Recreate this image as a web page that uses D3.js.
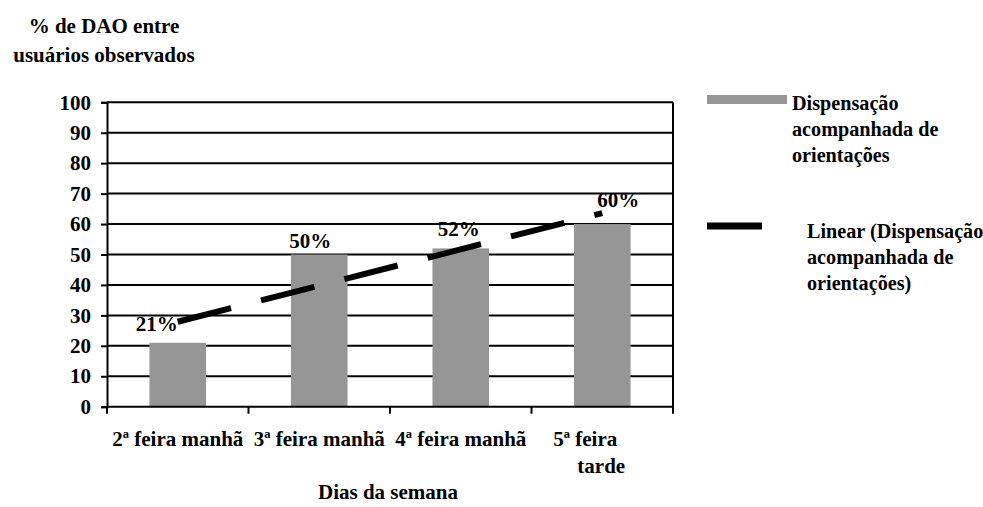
<!DOCTYPE html>
<html><head><meta charset="utf-8">
<script src="https://cdn.jsdelivr.net/npm/d3@7"></script>
<style>
body{margin:0;background:#fff;}
</style></head>
<body>
<svg id="chart" width="983" height="507"></svg>
<script>
const categories = ["2ª feira manhã", "3ª feira manhã", "4ª feira manhã", "5ª feira tarde"];
const values = [21, 50, 52, 60];
const yTicks = [0, 10, 20, 30, 40, 50, 60, 70, 80, 90, 100];
const xTitle = "Dias da semana";
const yTitle = ["% de DAO entre", "usuários observados"];
const legendBar = ["Dispensação", "acompanhada de", "orientações"];
const legendTrend = ["Linear (Dispensação", "acompanhada de", "orientações)"];
// label nudges (layout only)
const labelDx = [-21, -9, -2, 16];
const labelDy = [-12, -7, -12, -17];

(function () {
const FF = "'Liberation Serif', 'Times New Roman', serif";
const svg = d3.select("#chart");
const fs = 21, lfs = 20.2;
const pL = 107, pR = 673, pT = 102.3, pB = 406.7;

const T = (sel) => sel.attr("font-family", FF).attr("font-weight", "bold").attr("fill", "#000");

const x = d3.scaleBand().domain(categories).range([pL, pR]).padding(0);
const y = d3.scaleLinear().domain([0, 100]).range([pB, pT]);

// gridlines
svg.append("g").selectAll("line").data(yTicks.filter(d => d > 0)).join("line")
  .attr("x1", pL).attr("x2", pR).attr("y1", d => y(d)).attr("y2", d => y(d))
  .attr("stroke", "#000").attr("stroke-width", 2);
// right border
svg.append("line").attr("x1", pR).attr("x2", pR).attr("y1", pT).attr("y2", pB)
  .attr("stroke", "#000").attr("stroke-width", 2);

// bars
const bw = x.bandwidth() * 0.4;
svg.append("g").selectAll("rect").data(values).join("rect")
  .attr("x", (d, i) => x(categories[i]) + x.bandwidth() / 2 - bw / 2)
  .attr("width", bw)
  .attr("y", d => y(d)).attr("height", d => y(0) - y(d))
  .attr("fill", "#969696");

// y axis
const yAxis = svg.append("g").attr("transform", `translate(${pL},0)`)
  .call(d3.axisLeft(y).tickValues(yTicks).tickSize(6).tickPadding(10));
yAxis.select(".domain").attr("stroke-width", 2);
yAxis.selectAll(".tick line").attr("stroke-width", 2);
yAxis.selectAll("text").attr("font-size", fs).call(T);
yAxis.attr("font-family", FF);

// x axis
const xAxis = svg.append("g").attr("transform", `translate(0,${pB})`)
  .call(d3.axisBottom(x).tickSize(0).tickFormat(""));
xAxis.select(".domain").attr("stroke-width", 2).attr("d", `M${pL},0H${pR}`);
const bounds = categories.map(c => x(c)).concat([pR]);
xAxis.selectAll(".bt").data(bounds).join("line").attr("class", "bt")
  .attr("x1", d => d).attr("x2", d => d).attr("y1", 0).attr("y2", 7)
  .attr("stroke", "#000").attr("stroke-width", 2);

// category labels
categories.forEach((c, i) => {
  const cx = x(c) + x.bandwidth() / 2;
  if (i < 3) {
    svg.append("text").attr("x", cx).attr("y", 446).attr("text-anchor", "middle")
      .attr("font-size", fs).text(c).call(T);
  } else {
    const parts = ["5ª feira", "tarde"];
    svg.append("text").attr("x", cx - 17).attr("y", 446).attr("text-anchor", "middle")
      .attr("font-size", fs).text(parts[0]).call(T);
    svg.append("text").attr("x", cx - 1).attr("y", 473).attr("text-anchor", "middle")
      .attr("font-size", fs).text(parts[1]).call(T);
  }
});

// data labels
svg.append("g").selectAll("text").data(values).join("text")
  .attr("x", (d, i) => x(categories[i]) + x.bandwidth() / 2 + labelDx[i])
  .attr("y", (d, i) => y(d) + labelDy[i])
  .attr("text-anchor", "middle").attr("font-size", fs)
  .text(d => d + "%").call(T);

// linear trend (least squares)
const n = values.length;
const xs = values.map((d, i) => i + 1);
const mx = d3.mean(xs), my = d3.mean(values);
const slope = d3.sum(xs.map((xi, i) => (xi - mx) * (values[i] - my))) / d3.sum(xs.map(xi => (xi - mx) ** 2));
const icpt = my - slope * mx;
const trend = [1, n].map(k => ({cat: categories[k - 1], v: icpt + slope * k}));
svg.append("path")
  .attr("d", d3.line().x(d => x(d.cat) + x.bandwidth() / 2).y(d => y(d.v))(trend))
  .attr("stroke", "#000").attr("stroke-width", 6).attr("fill", "none")
  .attr("stroke-dasharray", "55,31");

// titles
svg.append("text").attr("x", (pL + pR) / 2 - 2).attr("y", 499).attr("text-anchor", "middle")
  .attr("font-size", fs).text(xTitle).call(T);
yTitle.forEach((t, i) => {
  svg.append("text").attr("x", 104).attr("y", 33 + i * 29).attr("text-anchor", "middle")
    .attr("font-size", fs).text(t).call(T);
});

// legend
const lg = svg.append("g");
lg.append("rect").attr("x", 707).attr("y", 95).attr("width", 80).attr("height", 9).attr("fill", "#969696");
legendBar.forEach((t, i) => {
  lg.append("text").attr("x", 792).attr("y", 110 + i * 26).attr("font-size", lfs).text(t).call(T);
});
lg.append("line").attr("x1", 707).attr("x2", 762).attr("y1", 226).attr("y2", 226)
  .attr("stroke", "#000").attr("stroke-width", 7);
legendTrend.forEach((t, i) => {
  lg.append("text").attr("x", 807).attr("y", 238 + i * 26).attr("font-size", lfs).text(t).call(T);
});
})();
</script>
</body></html>
